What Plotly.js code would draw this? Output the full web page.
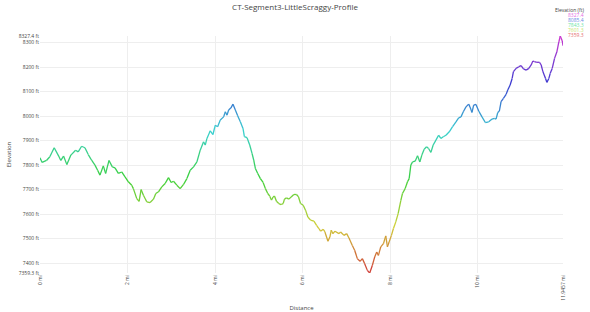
<!DOCTYPE html>
<html>
<head>
<meta charset="utf-8">
<script src="https://cdn.plot.ly/plotly-3.0.1.min.js"></script>
<style>html,body{margin:0;padding:0;background:#fff;}#chart{width:590px;height:312px;}</style>
</head>
<body>
<div id="chart"></div>
<script>
// Distance (mi)
const distance = [0.000,0.049,0.148,0.224,0.324,0.415,0.476,0.538,0.614,0.705,0.812,0.873,0.950,1.026,1.102,1.179,1.255,1.316,1.370,1.446,1.500,1.576,1.652,1.713,1.790,1.866,1.942,2.019,2.095,2.133,2.210,2.263,2.309,2.362,2.438,2.515,2.591,2.645,2.706,2.782,2.858,2.935,2.996,3.049,3.126,3.202,3.278,3.355,3.431,3.507,3.584,3.660,3.736,3.775,3.813,3.889,3.950,4.004,4.057,4.118,4.194,4.233,4.271,4.309,4.362,4.408,4.462,4.515,4.576,4.637,4.668,4.729,4.790,4.843,4.882,4.920,4.973,5.034,5.096,5.149,5.202,5.248,5.286,5.325,5.355,5.401,5.454,5.508,5.554,5.584,5.630,5.683,5.737,5.798,5.859,5.905,5.951,6.012,6.065,6.118,6.180,6.256,6.317,6.370,6.408,6.470,6.508,6.577,6.622,6.653,6.691,6.737,6.828,6.867,6.943,7.004,7.057,7.134,7.187,7.248,7.309,7.363,7.416,7.477,7.531,7.592,7.645,7.691,7.730,7.783,7.844,7.897,7.936,7.974,8.027,8.073,8.126,8.180,8.241,8.279,8.340,8.394,8.432,8.470,8.508,8.569,8.623,8.676,8.722,8.775,8.829,8.875,8.928,8.981,9.043,9.104,9.157,9.211,9.272,9.348,9.424,9.501,9.562,9.615,9.669,9.730,9.791,9.821,9.867,9.905,9.959,10.020,10.096,10.172,10.249,10.325,10.379,10.417,10.455,10.493,10.531,10.585,10.646,10.684,10.738,10.784,10.814,10.875,10.936,10.989,11.043,11.104,11.165,11.219,11.257,11.295,11.348,11.409,11.448,11.486,11.547,11.577,11.623,11.654,11.699,11.753,11.806,11.852,11.883,11.929,11.9457];
// Elevation (ft)
const elevation = [7830,7811,7819,7834,7871,7841,7819,7837,7802,7841,7861,7854,7877,7871,7843,7820,7800,7779,7759,7797,7766,7819,7793,7789,7766,7772,7752,7732,7718,7704,7663,7652,7700,7677,7650,7647,7661,7684,7691,7711,7725,7749,7729,7734,7718,7704,7721,7745,7779,7793,7813,7861,7895,7882,7909,7940,7925,7963,7957,7984,7997,8018,8004,8025,8034,8049,8025,8002,7977,7950,7916,7912,7882,7848,7820,7786,7766,7745,7729,7704,7684,7673,7657,7670,7674,7652,7643,7639,7643,7661,7666,7661,7670,7680,7680,7670,7643,7636,7616,7588,7575,7571,7554,7541,7530,7538,7527,7489,7507,7534,7520,7530,7520,7527,7513,7520,7502,7472,7452,7418,7407,7418,7397,7370,7359.3,7391,7425,7445,7431,7466,7479,7511,7466,7486,7513,7541,7568,7602,7655,7684,7704,7732,7745,7800,7813,7816,7838,7813,7841,7865,7875,7868,7852,7882,7902,7922,7909,7916,7922,7936,7957,7977,7993,7997,8018,8038,8049,8038,8015,8045,8048,8021,7997,7974,7977,7988,7991,7988,8015,8021,8059,8073,8089,8107,8127,8154,8182,8195,8202,8206,8193,8188,8195,8209,8225,8223,8220,8220,8209,8182,8154,8138,8154,8175,8195,8236,8263,8304,8327.4,8307,8288];

const elevMin = 7359.3, elevMax = 8327.4, distMax = 11.9457;
const yTickVals = [7359.3,7400,7500,7600,7700,7800,7900,8000,8100,8200,8300,8327.4];
const yTickText = ["7359.3 ft","7400 ft","7500 ft","7600 ft","7700 ft","7800 ft","7900 ft","8000 ft","8100 ft","8200 ft","8300 ft","8327.4 ft"];
const xTickVals = [0,2,4,6,8,10,11.9457];
const xTickText = ["0 mi","2 mi","4 mi","6 mi","8 mi","10 mi","11.9457 mi"];
const legendVals = [8327.4,8085.4,7843.3,7601.3,7359.3];

function elevColor(v, s, l){
  const t = (v - elevMin) / (elevMax - elevMin);
  return 'hsl(' + (300*t).toFixed(1) + ',' + s + '%,' + l + '%)';
}

const traces = [];
for (let i = 0; i < distance.length - 1; i++){
  const avg = (elevation[i] + elevation[i+1]) / 2;
  traces.push({
    x: [distance[i], distance[i+1]],
    y: [elevation[i], elevation[i+1]],
    type: 'scatter', mode: 'lines',
    line: {color: elevColor(avg, 62, 52), width: 1.3},
    hoverinfo: 'skip', showlegend: false
  });
}

const plotW = 590 - 40 - 27, plotH = 312 - 36 - 39;
const legX = (586 - 40) / plotW;
const legYs = [10, 15, 19.9, 24.8, 29.7, 34.6];
const annotations = [{
  text: 'Elevation (ft)', xref: 'paper', yref: 'paper', x: legX, xanchor: 'right',
  y: 1 + (36 - legYs[0]) / plotH, yanchor: 'middle', showarrow: false,
  font: {family: 'Open Sans, sans-serif', size: 5, color: '#444'}
}];
legendVals.forEach((v, k) => {
  annotations.push({text: v.toFixed(1), xref: 'paper', yref: 'paper', x: legX, xanchor: 'right',
    y: 1 + (36 - legYs[k + 1]) / plotH, yanchor: 'middle', showarrow: false,
    font: {family: 'Open Sans, sans-serif', size: 5, color: elevColor(v, 70, 66)}});
});

const layout = {
  width: 590, height: 312,
  margin: {l: 40, r: 27, t: 36, b: 39, pad: 0},
  paper_bgcolor: '#fff', plot_bgcolor: '#fff',
  font: {family: 'Open Sans, sans-serif', color: '#444'},
  title: {text: 'CT-Segment3-LittleScraggy-Profile', x: 0.5, xanchor: 'center', y: 0.978, yanchor: 'middle',
          font: {size: 8, color: '#444'}},
  xaxis: {
    range: [0, distMax], tickvals: xTickVals, ticktext: xTickText, tickangle: -90,
    tickfont: {size: 5, color: '#444'}, showgrid: true, gridcolor: '#eeeeee', gridwidth: 1,
    zeroline: false, showline: false, ticks: '',
    title: {text: 'Distance', font: {size: 6, color: '#444'}, standoff: 12}
  },
  yaxis: {
    range: [elevMin, elevMax], tickvals: yTickVals, ticktext: yTickText,
    tickfont: {size: 5, color: '#444'}, showgrid: true, gridcolor: '#eeeeee', gridwidth: 1,
    zeroline: false, showline: false, ticks: '',
    title: {text: 'Elevation', font: {size: 6, color: '#444'}, standoff: 6}
  },
  annotations: annotations,
  showlegend: false
};

Plotly.newPlot('chart', traces, layout, {displayModeBar: false, staticPlot: true});
</script>
</body>
</html>
